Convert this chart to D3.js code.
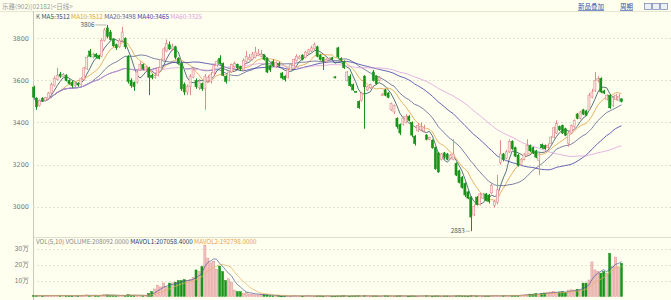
<!DOCTYPE html>
<html><head><meta charset="utf-8">
<script src="https://cdn.jsdelivr.net/npm/d3@7"></script>
<style>
body{margin:0;background:#fffff0;}
svg{display:block;font-family:"Noto Sans CJK SC","DejaVu Sans",sans-serif;}
</style>
</head><body>
<svg id="c" width="671" height="300"></svg>
<script>
// ---------------- DATA ----------------
const opens=[3568,3516,3480,3515,3505,3515,3540,3575,3605,3630,
3618,3625,3600,3590,3575,3585,3580,3605,3655,3740,
3712,3725,3718,3715,3790,3850,3830,3795,3770,3760,
3790,3800,3715,3600,3590,3590,3650,3675,3650,3660,
3625,3615,3625,3660,3700,3740,3770,3750,3760,3705,
3680,3580,3545,3570,3615,3600,3565,3585,3560,3600,
3595,3635,3670,3705,3680,3620,3600,3640,3665,3675,
3665,3650,3690,3700,3700,3710,3720,3715,3720,3705,
3670,3690,3665,3680,3635,3620,3615,3650,3670,3695,
3705,3720,3710,3730,3740,3750,3760,3720,3710,3690,
3700,3708,3617,3755,3705,3690,3600,3620,3580,3548,
3500,3505,3620,3555,3565,3640,3620,3600,3528,3555,
3540,3460,3450,3420,3390,3390,3400,3430,3400,3335,
3360,3365,3360,3340,3320,3315,3280,3255,3225,3255,
3250,3230,3225,3205,3170,3140,3110,3070,3045,2960,
3045,3010,3040,3060,3055,3065,3005,3020,3210,3250,
3230,3260,3310,3280,3245,3200,3225,3245,3290,3280,
3265,3220,3295,3290,3280,3300,3330,3350,3380,3385,
3370,3300,3350,3380,3440,3420,3460,3455,3460,3520,
3550,3600,3610,3550,3510,3530,3480,3510,3505,3512];
const closes=[3521,3475,3505,3505,3518,3540,3580,3610,3625,3620,
3628,3600,3585,3575,3585,3578,3610,3660,3710,3715,
3725,3712,3705,3790,3840,3810,3795,3765,3755,3790,
3830,3760,3595,3575,3570,3640,3675,3655,3665,3615,
3615,3622,3660,3700,3750,3775,3750,3760,3710,3680,
3560,3545,3570,3620,3650,3570,3595,3560,3620,3615,
3630,3670,3690,3680,3625,3595,3640,3675,3680,3660,
3655,3695,3715,3710,3725,3735,3730,3725,3700,3640,
3650,3670,3685,3672,3612,3605,3650,3675,3700,3715,
3712,3700,3735,3745,3755,3770,3715,3700,3690,3700,
3705,3702,3613,3712,3695,3660,3640,3575,3555,3545,
3470,3540,3570,3570,3580,3600,3585,3612,3535,3530,
3520,3490,3480,3380,3350,3420,3430,3410,3340,3300,
3385,3380,3375,3320,3328,3280,3180,3165,3250,3235,
3225,3245,3250,3150,3115,3090,3055,3040,2950,3000,
3010,3060,3060,3030,3025,3100,3025,3080,3250,3225,
3260,3310,3275,3240,3195,3225,3250,3290,3265,3255,
3235,3250,3280,3275,3290,3330,3375,3395,3365,3350,
3340,3350,3385,3410,3420,3450,3440,3435,3530,3545,
3600,3610,3545,3540,3530,3470,3520,3530,3525,3500];
const highs=[3575,3520,3510,3520,3522,3545,3590,3620,3660,3640,
3635,3630,3605,3598,3590,3592,3615,3665,3720,3750,
3730,3730,3722,3800,3850,3864,3840,3800,3775,3800,
3855,3805,3720,3610,3595,3650,3690,3680,3670,3665,
3632,3630,3665,3705,3760,3795,3785,3775,3765,3710,
3685,3590,3580,3630,3660,3610,3605,3590,3630,3625,
3640,3680,3700,3720,3685,3625,3645,3680,3690,3680,
3670,3705,3740,3725,3735,3760,3750,3745,3725,3710,
3675,3700,3690,3688,3640,3625,3655,3680,3705,3725,
3720,3725,3740,3750,3765,3780,3765,3725,3712,3705,
3710,3712,3620,3760,3710,3695,3645,3630,3585,3550,
3505,3545,3625,3575,3585,3650,3625,3620,3540,3560,
3545,3495,3485,3425,3395,3430,3440,3435,3405,3340,
3395,3400,3390,3345,3332,3320,3285,3260,3255,3260,
3255,3250,3320,3210,3175,3145,3115,3075,3050,3010,
3050,3065,3065,3065,3060,3110,3030,3150,3315,3255,
3270,3320,3315,3285,3250,3230,3255,3320,3295,3285,
3270,3255,3300,3295,3300,3335,3380,3410,3385,3390,
3375,3360,3390,3415,3445,3455,3465,3460,3540,3560,
3640,3620,3615,3555,3535,3535,3525,3535,3535,3515];
const lows=[3515,3460,3475,3498,3500,3510,3535,3570,3600,3612,
3610,3595,3580,3565,3568,3570,3575,3600,3650,3710,
3705,3705,3700,3710,3785,3800,3790,3760,3745,3755,
3785,3750,3585,3565,3550,3585,3645,3648,3645,3530,
3605,3608,3620,3655,3695,3735,3745,3740,3700,3675,
3550,3530,3530,3530,3610,3560,3555,3550,3460,3590,
3585,3625,3665,3675,3620,3585,3595,3635,3660,3650,
3645,3645,3685,3695,3695,3705,3715,3710,3695,3635,
3640,3665,3660,3665,3605,3595,3610,3645,3665,3690,
3700,3695,3705,3725,3735,3745,3710,3695,3650,3685,
3695,3698,3610,3705,3690,3655,3595,3570,3550,3543,
3465,3500,3370,3550,3560,3595,3580,3595,3525,3525,
3515,3455,3440,3370,3340,3385,3395,3405,3330,3290,
3355,3360,3355,3315,3315,3275,3175,3160,3220,3225,
3220,3225,3220,3145,3110,3085,3045,3035,2883,2955,
3005,3005,3035,3025,3015,3060,2995,3010,3200,3215,
3225,3255,3270,3235,3190,3195,3220,3240,3260,3250,
3230,3150,3275,3270,3275,3295,3325,3345,3360,3345,
3335,3285,3345,3375,3415,3415,3435,3430,3455,3515,
3545,3590,3540,3535,3505,3465,3475,3505,3500,3495];
// volume in 万 (10,000 shares)
const volumes=[0.6,0.5,0.6,0.4,0.5,0.6,0.7,0.6,0.8,0.5,
0.5,0.6,0.5,0.4,0.5,0.5,0.6,0.8,1.0,0.7,
0.6,0.5,0.5,0.9,1.2,1.0,0.8,0.6,0.5,0.6,
0.8,0.7,1.2,0.8,0.6,0.7,0.8,0.6,0.7,2,
3,4.7,7,6,8.5,6,8.4,8.5,9,10,
10,10.5,10,10.5,12,16.6,15.5,18.7,32,24,
21,22,17,19,15.6,10,11,9,4,3,
3,2,2.5,1.5,1.5,1,1,1.5,1,1,
0.5,0.4,0.4,0.5,0.3,0.4,0.4,0.3,0.5,0.4,
0.4,0.3,0.4,0.5,0.4,0.3,0.4,0.4,0.3,0.4,
0.4,0.3,0.3,0.4,0.4,0.5,0.4,0.3,0.4,0.4,
0.5,0.4,0.6,0.4,0.3,0.4,0.4,0.3,0.4,0.5,
0.4,0.4,0.3,0.4,0.5,0.4,0.4,0.3,0.4,0.4,
0.3,0.4,0.4,0.5,0.4,0.3,0.4,0.4,0.3,0.4,
0.4,0.3,0.4,0.4,0.5,0.4,0.4,0.3,0.6,0.5,
0.4,0.4,0.3,0.4,0.4,0.5,0.6,0.5,0.4,0.5,
0.5,0.6,0.5,0.8,0.7,0.9,1,1.2,1.5,1.5,
1.8,1.5,2,2.2,2.5,2.8,3,2.5,2.8,3,
2.6,4,4.2,4,4.5,4.2,8.4,8.4,10.3,21.6,
16.6,15.5,14.6,15.6,14.6,27,19,24.6,18,20.8];

const titleText="乐雅(902)[02182]<日线>";
const priceTicks=[3000,3200,3400,3600,3800];
const volTicks=[10,20,30];
const volTickLabels=["10万","20万","30万"];
const maPeriods=[5,10,20,40,60];
const maNames=["MA5","MA10","MA20","MA40","MA60"];
const maLegendValues=["3512","3512","3498","3465","3325"];
const maColors=["#2f4f5f","#e0a040","#5a6090","#3a3aa8","#dca0dc"];
const volLegend=[["VOL(5,10) VOLUME:208092.0000","#888"],["MAVOL1:207058.4000","#2a3a6a"],["MAVOL2:192798.0000","#e8a040"]];
const volMaPeriods=[5,10];
const volMaColors=["#4a5a9a","#e8b060"];
const highLabel="3806", lowLabel="2883";
const topLinks=["新品叠加","周期"];

// ---------------- CHART ----------------
const W=671,H=300;
const svg=d3.select("#c");
svg.append("rect").attr("width",W).attr("height",H).attr("fill","#fffff0");

const n=closes.length;
const x=d3.scaleBand().domain(d3.range(n)).range([32.5,622.5]).paddingInner(0.3);
const cx=i=>x(i)+x.bandwidth()/2;
const y=d3.scaleLinear().domain([2860,3878]).range([236,22]);
const yv=d3.scaleLinear().domain([0,30]).range([296.5,248.5]);

const AXX=33;
// frame lines
svg.append("line").attr("x1",0).attr("x2",W).attr("y1",11.5).attr("y2",11.5).attr("stroke","#e6e6d0");
svg.append("line").attr("x1",AXX).attr("x2",W).attr("y1",237.5).attr("y2",237.5).attr("stroke","#e0e0cc");
svg.append("line").attr("x1",AXX+0.5).attr("x2",AXX+0.5).attr("y1",11).attr("y2",H).attr("stroke","#c8c8b8");

// price axis & grid
priceTicks.forEach(t=>{
  svg.append("line").attr("x1",AXX).attr("x2",W).attr("y1",Math.round(y(t))+0.5).attr("y2",Math.round(y(t))+0.5)
    .attr("stroke","#e2e2d2").attr("stroke-dasharray","2,2");
});
const yAxis=d3.axisLeft(y).tickValues(priceTicks).tickSize(0).tickPadding(4).tickFormat(d3.format("d"));
const ya=svg.append("g").attr("transform",`translate(${AXX},0)`).call(yAxis);
ya.select(".domain").remove();
ya.selectAll("text").attr("font-size",6.5).attr("fill","#777").attr("font-family","DejaVu Sans");

// vol axis & grid
volTicks.forEach(t=>{
  svg.append("line").attr("x1",AXX).attr("x2",W).attr("y1",Math.round(yv(t))+0.5).attr("y2",Math.round(yv(t))+0.5)
    .attr("stroke","#e2e2d2").attr("stroke-dasharray","2,2");
});
const vAxis=d3.axisLeft(yv).tickValues(volTicks).tickSize(0).tickPadding(4).tickFormat((d,i)=>volTickLabels[i]);
const va=svg.append("g").attr("transform",`translate(${AXX},0)`).call(vAxis);
va.select(".domain").remove();
va.selectAll("text").attr("font-size",6.5).attr("fill","#777");

// title & links
svg.append("text").attr("x",2).attr("y",8.5).attr("font-size",6.5).attr("fill","#999").text(titleText);
svg.append("text").attr("x",578).attr("y",9).attr("font-size",6.5).attr("fill","#3355aa").attr("text-decoration","underline").text(topLinks[0]);
svg.append("text").attr("x",620).attr("y",9).attr("font-size",6.5).attr("fill","#3355aa").attr("text-decoration","underline").text(topLinks[1]);
[644,652,660].forEach(bx=>{
  svg.append("rect").attr("x",bx+0.5).attr("y",3.5).attr("width",7).attr("height",6).attr("fill","#eef0f8").attr("stroke","#7080b0").attr("stroke-width",0.7);
});

// MA legend
const lg=svg.append("text").attr("x",36).attr("y",18.5).attr("font-size",6.3);
lg.append("tspan").attr("fill","#666").text("K  ");
maNames.forEach((nm,k)=>lg.append("tspan").attr("fill",maColors[k]).text(nm+":"+maLegendValues[k]+" "));

// volume legend
const vl=svg.append("text").attr("x",36).attr("y",244).attr("font-size",6.3);
volLegend.forEach(([t,c])=>vl.append("tspan").attr("fill",c).text(t+" "));

// moving averages
function ma(arr,p){return arr.map((v,i)=>{const s=Math.max(0,i-p+1);return d3.mean(arr.slice(s,i+1));});}
maPeriods.forEach((p,k)=>{
  const m=ma(closes,p);
  svg.append("path").datum(m).attr("fill","none").attr("stroke",maColors[k]).attr("stroke-width",0.8)
    .attr("d",d3.line().x((d,i)=>cx(i)).y(d=>y(d)));
});

// candles
const upStroke="#e08c8c", upFill="#fbe6e6", dnColor="#1a931a";
const cg=svg.append("g");
d3.range(n).forEach(i=>{
  const o=opens[i],c=closes[i],up=c>=o;
  const col=up?upStroke:dnColor;
  cg.append("line").attr("x1",Math.round(cx(i))+0.5).attr("x2",Math.round(cx(i))+0.5)
    .attr("y1",y(highs[i])).attr("y2",y(lows[i])).attr("stroke",col).attr("stroke-width",1);
  const top=y(Math.max(o,c)),bot=y(Math.min(o,c));
  cg.append("rect").attr("x",x(i)).attr("y",top).attr("width",x.bandwidth()).attr("height",Math.max(1,bot-top))
    .attr("fill",up?upFill:dnColor).attr("stroke",col).attr("stroke-width",0.6);
});

// volume bars
const vg=svg.append("g");
d3.range(n).forEach(i=>{
  const up=closes[i]>=opens[i];
  const t=yv(volumes[i]);
  vg.append("rect").attr("x",x(i)).attr("y",t).attr("width",x.bandwidth()).attr("height",Math.max(0.8,yv(0)-t))
    .attr("fill",up?"#f2c4c4":dnColor).attr("stroke",up?upStroke:dnColor).attr("stroke-width",0.5);
});
volMaPeriods.forEach((p,k)=>{
  const m=ma(volumes,p);
  svg.append("path").datum(m).attr("fill","none").attr("stroke",volMaColors[k]).attr("stroke-width",0.7)
    .attr("d",d3.line().x((d,i)=>cx(i)).y(d=>yv(d)));
});

// extreme annotations
const hi=d3.maxIndex(highs), lo=d3.minIndex(lows);
svg.append("line").attr("x1",cx(hi)-12).attr("x2",cx(hi)-1).attr("y1",y(highs[hi])).attr("y2",y(highs[hi])).attr("stroke","#888").attr("stroke-width",0.6);
svg.append("text").attr("x",cx(hi)-13).attr("y",y(highs[hi])+2).attr("text-anchor","end").attr("font-size",6.3).attr("fill","#555").text(highLabel);
svg.append("line").attr("x1",cx(lo)-5).attr("x2",cx(lo)-1).attr("y1",y(lows[lo])).attr("y2",y(lows[lo])).attr("stroke","#888").attr("stroke-width",0.6);
svg.append("text").attr("x",cx(lo)-6).attr("y",y(lows[lo])+2).attr("text-anchor","end").attr("font-size",6.3).attr("fill","#555").text(lowLabel);
</script>
</body></html>
